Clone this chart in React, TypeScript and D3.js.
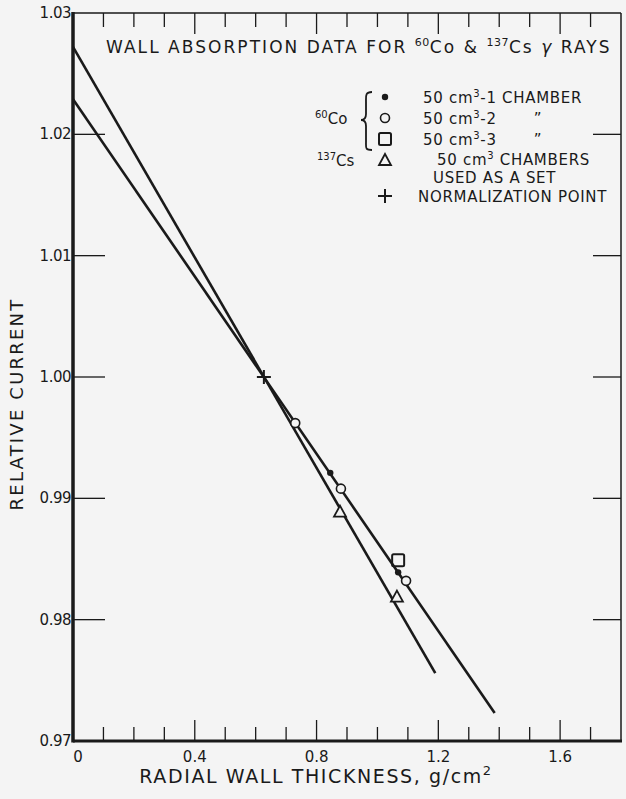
import React, { useEffect, useRef } from "react";
import * as d3 from "d3";

const W = 626;
const H = 799;

// axis ticks
const xMajor = [0, 0.4, 0.8, 1.2, 1.6];
const xTickLabels = ["0", "0.4", "0.8", "1.2", "1.6"];
const xMinorTicks = [0.1, 0.2, 0.3, 0.4, 0.5, 0.6, 0.7, 0.8, 0.9, 1.0, 1.1, 1.2, 1.3, 1.4, 1.5, 1.6, 1.7];
const yTicks = [0.97, 0.98, 0.99, 1.0, 1.01, 1.02, 1.03];
const yTickLabels = ["0.97", "0.98", "0.99", "1.00", "1.01", "1.02", "1.03"];

// fitted lines (end points)
const coLineX = [0, 1.385];
const coLineY = [1.0229, 0.9723];
const csLineX = [0, 1.19];
const csLineY = [1.0272, 0.9756];

// measured points
const co1X = [0.845, 1.068];
const co1Y = [0.9921, 0.9839];
const co2X = [0.73, 0.88, 1.094];
const co2Y = [0.9962, 0.9908, 0.9832];
const co3X = [1.068];
const co3Y = [0.9849];
const csX = [0.877, 1.064];
const csY = [0.9889, 0.9819];
const normX = [0.627];
const normY = [1.0];

const FONT = "DejaVu Sans, Liberation Sans, sans-serif";

function drawChart(svgEl: SVGSVGElement) {
  const svg = d3.select(svgEl);
  svg.selectAll("*").remove();

  svg.append("rect").attr("width", W).attr("height", H).attr("fill", "#f4f4f4");

  const x = d3.scaleLinear().domain([0, 1.8]).range([73, 621]);
  const y = d3.scaleLinear().domain([0.97, 1.03]).range([741, 13]);

  const ink = "#1a1a1a";

  // frame: top/right thin, left/bottom heavy
  svg.append("line").attr("x1", x(0)).attr("x2", x(1.8)).attr("y1", y(1.03)).attr("y2", y(1.03))
    .attr("stroke", ink).attr("stroke-width", 1.5);
  svg.append("line").attr("x1", x(1.8)).attr("x2", x(1.8)).attr("y1", y(1.03)).attr("y2", y(0.97))
    .attr("stroke", ink).attr("stroke-width", 1.5);
  svg.append("line").attr("x1", x(0)).attr("x2", x(0)).attr("y1", y(1.03) - 1).attr("y2", y(0.97) + 1.5)
    .attr("stroke", ink).attr("stroke-width", 3.5);
  svg.append("line").attr("x1", x(0)).attr("x2", x(1.8) + 1).attr("y1", y(0.97)).attr("y2", y(0.97))
    .attr("stroke", ink).attr("stroke-width", 3);

  // x ticks, bottom and top, pointing inward
  xMinorTicks.forEach(t => {
    const major = xMajor.some(m => Math.abs(m - t) < 1e-6);
    const len = major ? 21 : 14;
    svg.append("line").attr("x1", x(t)).attr("x2", x(t))
      .attr("y1", y(0.97)).attr("y2", y(0.97) - len)
      .attr("stroke", ink).attr("stroke-width", 1.3);
    svg.append("line").attr("x1", x(t)).attr("x2", x(t))
      .attr("y1", y(1.03)).attr("y2", y(1.03) + len)
      .attr("stroke", ink).attr("stroke-width", 1.3);
  });

  // y ticks left and right
  yTicks.slice(1, -1).forEach(t => {
    svg.append("line").attr("x1", x(0)).attr("x2", x(0) + 32)
      .attr("y1", y(t)).attr("y2", y(t))
      .attr("stroke", ink).attr("stroke-width", 1.3);
    svg.append("line").attr("x1", x(1.8)).attr("x2", x(1.8) - 28)
      .attr("y1", y(t)).attr("y2", y(t))
      .attr("stroke", ink).attr("stroke-width", 1.3);
  });

  // tick labels
  xMajor.forEach((t, i) => {
    svg.append("text")
      .attr("x", x(t) + (t === 0 ? 5 : 0)).attr("y", y(0.97) + 21)
      .attr("text-anchor", "middle")
      .attr("font-family", FONT).attr("font-size", 15).attr("fill", ink)
      .text(xTickLabels[i]);
  });
  yTicks.forEach((t, i) => {
    svg.append("text")
      .attr("x", x(0) - 2).attr("y", y(t) + 5)
      .attr("text-anchor", "end")
      .attr("font-family", FONT).attr("font-size", 15).attr("fill", ink)
      .attr("letter-spacing", -0.5)
      .text(yTickLabels[i]);
  });

  // axis titles
  const xt = svg.append("text")
    .attr("x", 316).attr("y", 783)
    .attr("text-anchor", "middle")
    .attr("font-family", FONT).attr("font-size", 19).attr("fill", ink)
    .attr("letter-spacing", 1.6);
  xt.append("tspan").text("RADIAL WALL THICKNESS, g/cm");
  xt.append("tspan").attr("dy", -8).attr("font-size", 13).text("2");

  svg.append("text")
    .attr("transform", `translate(23, ${y(1.0) + 27}) rotate(-90)`)
    .attr("text-anchor", "middle")
    .attr("font-family", FONT).attr("font-size", 18).attr("fill", ink)
    .attr("letter-spacing", 2.2)
    .text("RELATIVE CURRENT");

  // fitted lines
  const line = d3.line<[number, number]>().x(d => x(d[0])).y(d => y(d[1]));
  [[coLineX, coLineY], [csLineX, csLineY]].forEach(([lx, ly]) => {
    svg.append("path")
      .attr("d", line(lx.map((v, i) => [v, ly[i]] as [number, number])))
      .attr("fill", "none").attr("stroke", ink).attr("stroke-width", 2.6);
  });

  // symbols
  const symbolAt = (g: any, kind: string, px: number, py: number) => {
    if (kind === "dot") {
      g.append("circle").attr("cx", px).attr("cy", py).attr("r", 3.2).attr("fill", ink);
    } else if (kind === "circle") {
      g.append("circle").attr("cx", px).attr("cy", py).attr("r", 4.5)
        .attr("fill", "#f4f4f4").attr("stroke", ink).attr("stroke-width", 1.6);
    } else if (kind === "square") {
      g.append("rect").attr("x", px - 6).attr("y", py - 6).attr("width", 12).attr("height", 12)
        .attr("rx", 1.5).attr("fill", "none").attr("stroke", ink).attr("stroke-width", 2);
    } else if (kind === "triangle") {
      g.append("path")
        .attr("d", `M${px},${py - 6} L${px + 6},${py + 5} L${px - 6},${py + 5} Z`)
        .attr("fill", "#f4f4f4").attr("stroke", ink).attr("stroke-width", 1.8);
    } else if (kind === "plus") {
      g.append("path")
        .attr("d", `M${px - 7},${py} H${px + 7} M${px},${py - 7} V${py + 7}`)
        .attr("stroke", ink).attr("stroke-width", 2);
    }
  };

  const series: [number[], number[], string][] = [
    [co3X, co3Y, "square"],
    [csX, csY, "triangle"],
    [co2X, co2Y, "circle"],
    [co1X, co1Y, "dot"],
    [normX, normY, "plus"],
  ];
  series.forEach(([sx, sy, kind]) => {
    sx.forEach((v, i) => symbolAt(svg, kind, x(v), y(sy[i])));
  });

  // title
  const title = svg.append("text")
    .attr("x", 106).attr("y", 53)
    .attr("font-family", FONT).attr("font-size", 17).attr("fill", ink)
    .attr("letter-spacing", 2.05);
  title.append("tspan").text("WALL ABSORPTION DATA FOR ");
  title.append("tspan").attr("dy", -7).attr("font-size", 11).attr("letter-spacing", 0.5).text("60");
  title.append("tspan").attr("dy", 7).text("Co & ");
  title.append("tspan").attr("dy", -7).attr("font-size", 11).attr("letter-spacing", 0.5).text("137");
  title.append("tspan").attr("dy", 7).text("Cs ");
  title.append("tspan").attr("font-style", "italic").text("γ");
  title.append("tspan").text(" RAYS");

  // legend
  const lg = svg.append("g")
    .attr("font-family", FONT).attr("font-size", 15).attr("fill", ink)
    .attr("letter-spacing", 0.7);

  const iso = (tx: number, ty: number, mass: string, el: string) => {
    const t = lg.append("text").attr("x", tx).attr("y", ty).attr("letter-spacing", 0);
    t.append("tspan").attr("font-size", 10).attr("dy", -6).text(mass);
    t.append("tspan").attr("dy", 6).text(el);
  };
  iso(315, 124, "60", "Co");
  iso(317, 166, "137", "Cs");

  // brace
  lg.append("path")
    .attr("d", "M372,92 C365,92 366,96 366,102 L366,114 C366,118 364,120 361,120 C364,120 366,122 366,126 L366,142 C366,148 365,150 372,150")
    .attr("fill", "none").attr("stroke", ink).attr("stroke-width", 1.8);

  const lx = 385;
  symbolAt(lg, "dot", lx, 97);
  symbolAt(lg, "circle", lx, 118);
  symbolAt(lg, "square", lx, 139);
  symbolAt(lg, "triangle", lx, 160);
  symbolAt(lg, "plus", lx, 196);

  const cm3 = (tx: number, ty: number, rest: string) => {
    const t = lg.append("text").attr("x", tx).attr("y", ty);
    t.append("tspan").text("50 cm");
    t.append("tspan").attr("font-size", 10).attr("dy", -6).text("3");
    t.append("tspan").attr("dy", 6).text(rest);
  };
  cm3(423, 103, "-1 CHAMBER");
  cm3(423, 124, "-2");
  cm3(423, 145, "-3");
  lg.append("text").attr("x", 538).attr("y", 124).attr("text-anchor", "middle").text("\u201D");
  lg.append("text").attr("x", 538).attr("y", 145).attr("text-anchor", "middle").text("\u201D");
  cm3(437, 165, " CHAMBERS");
  lg.append("text").attr("x", 433).attr("y", 183).text("USED AS A SET");
  lg.append("text").attr("x", 418).attr("y", 202).text("NORMALIZATION POINT");
}

const App = () => {
  const svgRef = useRef<SVGSVGElement | null>(null);

  useEffect(() => {
    if (!svgRef.current) return;
    drawChart(svgRef.current);
  }, []);

  return (
    <svg
      ref={svgRef}
      width={W}
      height={H}
      style={{ position: "absolute", left: 0, top: 0 }}
    />
  );
};

export default App;
